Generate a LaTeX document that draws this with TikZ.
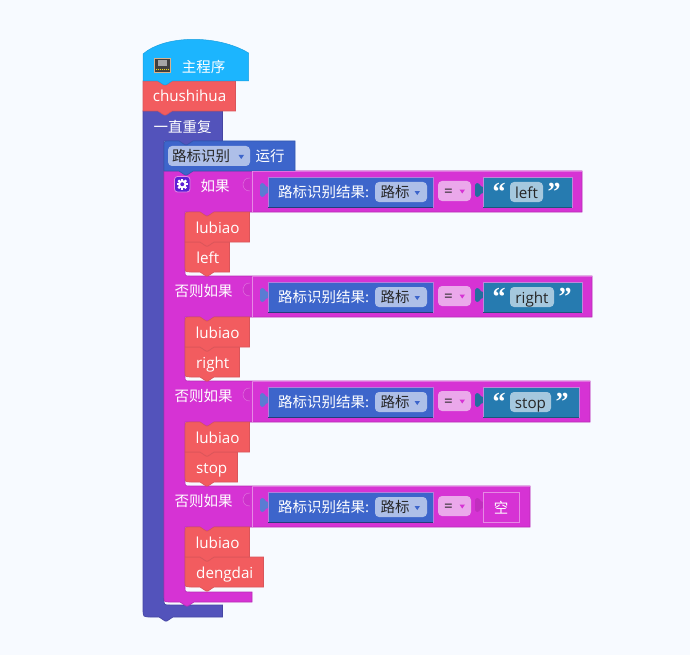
\documentclass[tikz,border=0pt]{standalone}
\usepackage{fontspec}
\setmainfont{Open Sans}
\newfontfamily\cjk{Noto Sans CJK SC}
\newfontfamily\quotefont{Liberation Serif}[BoldFont={Liberation Serif Bold}]
\definecolor{pagebg}{HTML}{F7FAFF}
\definecolor{hatblue}{HTML}{1CB5FE}
\definecolor{hatedge}{HTML}{1A9FE0}
\definecolor{redblock}{HTML}{F25C5F}
\definecolor{rededge}{HTML}{D9555A}
\definecolor{loopblue}{HTML}{5353BB}
\definecolor{loopedge}{HTML}{4646A3}
\definecolor{runblue}{HTML}{3D65CB}
\definecolor{runedge}{HTML}{3457B0}
\definecolor{ifpink}{HTML}{D633D4}
\definecolor{ifedge}{HTML}{B82CB6}
\definecolor{iflight}{HTML}{E68AE4}
\definecolor{strteal}{HTML}{267BB0}
\definecolor{ddblue}{HTML}{AEBFE8}
\definecolor{ddpink}{HTML}{EBA8EB}
\definecolor{ddteal}{HTML}{A5C8DE}
\definecolor{gearviolet}{HTML}{5B1FD6}
\tikzset{
  whitecjk/.style={font=\fontsize{14.5}{16}\selectfont\cjk,text=white,inner sep=0pt,yshift=-.3pt},
  whitelatin/.style={font=\fontsize{15.2}{16}\selectfont,text=white,inner sep=0pt,text height=11pt,text depth=2pt,yshift=-.5pt},
  darkcjk/.style={font=\fontsize{14.5}{16}\selectfont\cjk,text=black!85,inner sep=0pt,yshift=-.3pt},
  darklatin/.style={font=\fontsize{15.2}{16}\selectfont,text=black!85,inner sep=0pt,text height=11pt,text depth=2pt,yshift=-.5pt},
  quotemark/.style={font=\fontsize{26}{28}\selectfont\quotefont\bfseries,text=white,inner sep=0pt},
  redfill/.style={fill=redblock,draw=rededge,line width=.6pt},
  runfill/.style={fill=runblue,draw=runedge,line width=.6pt},
}
% block with a dent on top and a tab below: x1,y1,x2,y2,style,top-left radius,bottom-left radius
\newcommand{\stackblock}[7]{%
  \draw[#5] ({#1+15},#2) -- ({#1+21},{#2+4}) -- ({#1+23},{#2+4}) -- ({#1+29},#2) -- (#3,#2)
    -- (#3,#4) -- ({#1+29},#4) -- ({#1+23},{#4+4}) -- ({#1+21},{#4+4}) -- ({#1+15},#4)
    -- ({#1+#7},#4) .. controls (#1,#4) .. (#1,{#4-#7}) -- (#1,{#2+#6}) .. controls (#1,#2) .. ({#1+#6},#2) -- cycle;}
% left tab of an input block: right edge x, top y, colour
\newcommand{\inputtab}[3]{%
  \fill[#3] (#1,{#2+16}) .. controls ({#1-3},{#2+16}) and ({#1-3},{#2+12}) .. ({#1-6},{#2+12})
    .. controls ({#1-8},{#2+12}) and ({#1-8},{#2+14}) .. ({#1-8},{#2+19})
    .. controls ({#1-8},{#2+24}) and ({#1-8},{#2+26}) .. ({#1-6},{#2+26})
    .. controls ({#1-3},{#2+26}) and ({#1-3},{#2+22}) .. (#1,{#2+22}) -- cycle;}
\begin{document}
\begin{tikzpicture}[x=1pt,y=-1pt]
  \useasboundingbox (0,0) rectangle (690,655);
  \fill[pagebg] (0,0) rectangle (690,655);

  % forever loop
  \draw[fill=loopblue,draw=loopedge,line width=.6pt] (143,111) -- (222.5,111) -- (222.5,141) -- (193,141) -- (187,145) -- (185,145) -- (179,141)
    -- (164,141) -- (164,599) .. controls (164,605) .. (170,605) -- (222.5,605) -- (222.5,617) -- (173,617) -- (167,621) -- (165,621) -- (159,617)
    -- (151,617) .. controls (143,617) .. (143,609) -- cycle;

  % if block with its three else-if rows
  \draw[fill=ifpink,draw=ifedge,line width=.6pt] (179,171) -- (185,175) -- (187,175) -- (193,171) -- (582,171) -- (582,212)
    -- (214,212) -- (208,216) -- (206,216) -- (200,212) -- (185,212) -- (185,271) .. controls (185,276) .. (190,276)
    -- (592,276) -- (592,317) -- (214,317) -- (208,321) -- (206,321) -- (200,317) -- (185,317) -- (185,376) .. controls (185,381) .. (190,381)
    -- (590,381) -- (590,422) -- (214,422) -- (208,426) -- (206,426) -- (200,422) -- (185,422) -- (185,481) .. controls (185,486) .. (190,486)
    -- (530,486) -- (530,527) -- (214,527) -- (208,531) -- (206,531) -- (200,527) -- (185,527) -- (185,587) .. controls (185,592) .. (190,592)
    -- (252,592) -- (252,602) -- (194,602) -- (188,606) -- (186,606) -- (180,602) -- (170,602) .. controls (164,602) .. (164,596) -- (164,171) -- cycle;

  % run block
  \stackblock{164}{141}{295}{171}{runfill}{6}{0}
  \fill[ddblue,rounded corners=4pt] (168,146) rectangle (250,166);
  \fill[runblue] (238.5,155) -- (244,155) -- (241.25,159) -- cycle;
  \node[darkcjk] (runfield) at (201,156) {路标识别};
  \node[whitecjk] (runtext) at (270,156) {运行};

  % one condition row: sensor block, compare field, tab of the right input
  \foreach \rowtop/\rowname/\rowend in {171/a/582,276/b/592,381/c/590,486/d/530} {
    \draw[iflight!70!ifpink,line width=.8pt] (252,\rowtop+.8) -- (\rowend,\rowtop+.8);
    \draw[iflight,line width=.8pt] (252,\rowtop+.5) -- (252,\rowtop+41);
    \draw[fill=ifedge!25!ifpink,draw=iflight!70!ifpink,line width=.5pt] (250,\rowtop+7) .. controls (245,\rowtop+7) and (243,\rowtop+10) .. (243,\rowtop+13)
      .. controls (243,\rowtop+17) and (245,\rowtop+20) .. (250,\rowtop+20);
    \inputtab{268}{\rowtop}{runblue!85!white}
    \draw[fill=runblue,draw=iflight!70!runblue,line width=.7pt] (268,\rowtop+6) rectangle (433,\rowtop+36);
    \draw[runedge!70!black,line width=.7pt] (268,\rowtop+36) -- (433,\rowtop+36);
    \node[whitecjk,anchor=west] (sensor\rowname) at (278,\rowtop+21) {路标识别结果:};
    \fill[ddblue,rounded corners=4pt] (375,\rowtop+11) rectangle (427,\rowtop+31);
    \fill[runblue] (414.5,\rowtop+20) -- (420,\rowtop+20) -- (417.25,\rowtop+24) -- cycle;
    \node[darkcjk] (sign\rowname) at (395,\rowtop+21) {路标};
    \fill[ddpink,rounded corners=4pt] (438,\rowtop+10) rectangle (471,\rowtop+30);
    \fill[ifpink] (459.5,\rowtop+18.5) -- (465,\rowtop+18.5) -- (462.25,\rowtop+22.5) -- cycle;
    \node[darklatin] (equal\rowname) at (448.5,\rowtop+20.5) {=};
  }

  % string inputs
  \foreach \rowtop/\rowname/\word/\fieldend/\blockend in {171/a/left/543/572,276/b/right/554/582,381/c/stop/551/579} {
    \inputtab{483}{\rowtop}{strteal!90!black}
    \draw[fill=strteal,draw=iflight!80!strteal,line width=.7pt] (483,\rowtop+6) rectangle (\blockend,\rowtop+36);
    \draw[strteal!70!black,line width=.7pt] (483,\rowtop+36) -- (\blockend,\rowtop+36);
    \fill[ddteal,rounded corners=4pt] (510,\rowtop+11) rectangle (\fieldend,\rowtop+31);
    \node[darklatin] (word\rowname) at ({(510+\fieldend)/2},\rowtop+22) {\word};
    \node[quotemark] (open\rowname) at (499,\rowtop+20.5) {“};
    \node[quotemark] (close\rowname) at (\fieldend+11,\rowtop+20.5) {”};
  }

  % empty input of the last row
  \inputtab{483}{486}{ifedge!70!ifpink}
  \draw[fill=ifpink,draw=iflight,line width=.7pt] (483,492) rectangle (519.5,522);
  \node[whitecjk] (emptytext) at (501,507) {空};

  % headers of the if rows
  \draw[fill=gearviolet,draw=iflight,line width=.8pt,rounded corners=3pt] (174.5,176.5) rectangle (190,192);
  \foreach \toothangle in {0,45,...,315} {
    \fill[white,rotate around={\toothangle:(182.25,184.25)}] (181.1,178.7) rectangle (183.4,181);
  }
  \fill[white] (182.25,184.25) circle (4.2);
  \fill[gearviolet] (182.25,184.25) circle (2);
  \node[whitecjk] (iftext) at (215,186) {如果};
  \node[whitecjk] (elseb) at (203.5,291) {否则如果};
  \node[whitecjk] (elsec) at (203.5,396) {否则如果};
  \node[whitecjk] (elsed) at (203.5,501) {否则如果};

  % statements inside the arms
  \foreach \rowtop/\word/\blockend in {317/right/239.5,422/stop/237.5,212/left/229.5,527/dengdai/263.5} {
    \stackblock{185}{\rowtop+30}{\blockend}{\rowtop+60}{redfill}{0}{6}
    \stackblock{185}{\rowtop}{249.5}{\rowtop+30}{redfill}{6}{0}
    \node[whitelatin] (call\word) at (217.5,\rowtop+16) {lubiao};
    \node[whitelatin] (show\word) at ({(185+\blockend)/2+.5},\rowtop+46) {\word};
  }

  % top of the stack
  \node[whitecjk] (looptext) at (182.5,127) {一直重复};
  \stackblock{143}{81}{235.5}{111}{redfill}{0}{0}
  \node[whitelatin] (initname) at (189.5,97) {chushihua};
  \draw[fill=hatblue,draw=hatedge,line width=.5pt] (143,81) -- (143,54) .. controls (165,35) and (215,35) .. (245,51) -- (248.5,53) -- (248.5,81)
    -- (172,81) -- (166,85) -- (164,85) -- (158,81) -- cycle;
  \draw[fill=black!75,draw=brown!60,line width=.8pt] (154.5,58) rectangle (170,72);
  \fill[black!35] (157.5,60.5) rectangle (167,66);
  \foreach \dotx in {156.5,158.5,...,168.5} {
    \fill[yellow!70!brown] (\dotx,69.5) circle (.6);
  }
  \node[whitecjk] (maintext) at (203.5,67) {主程序};
\end{tikzpicture}
\end{document}
